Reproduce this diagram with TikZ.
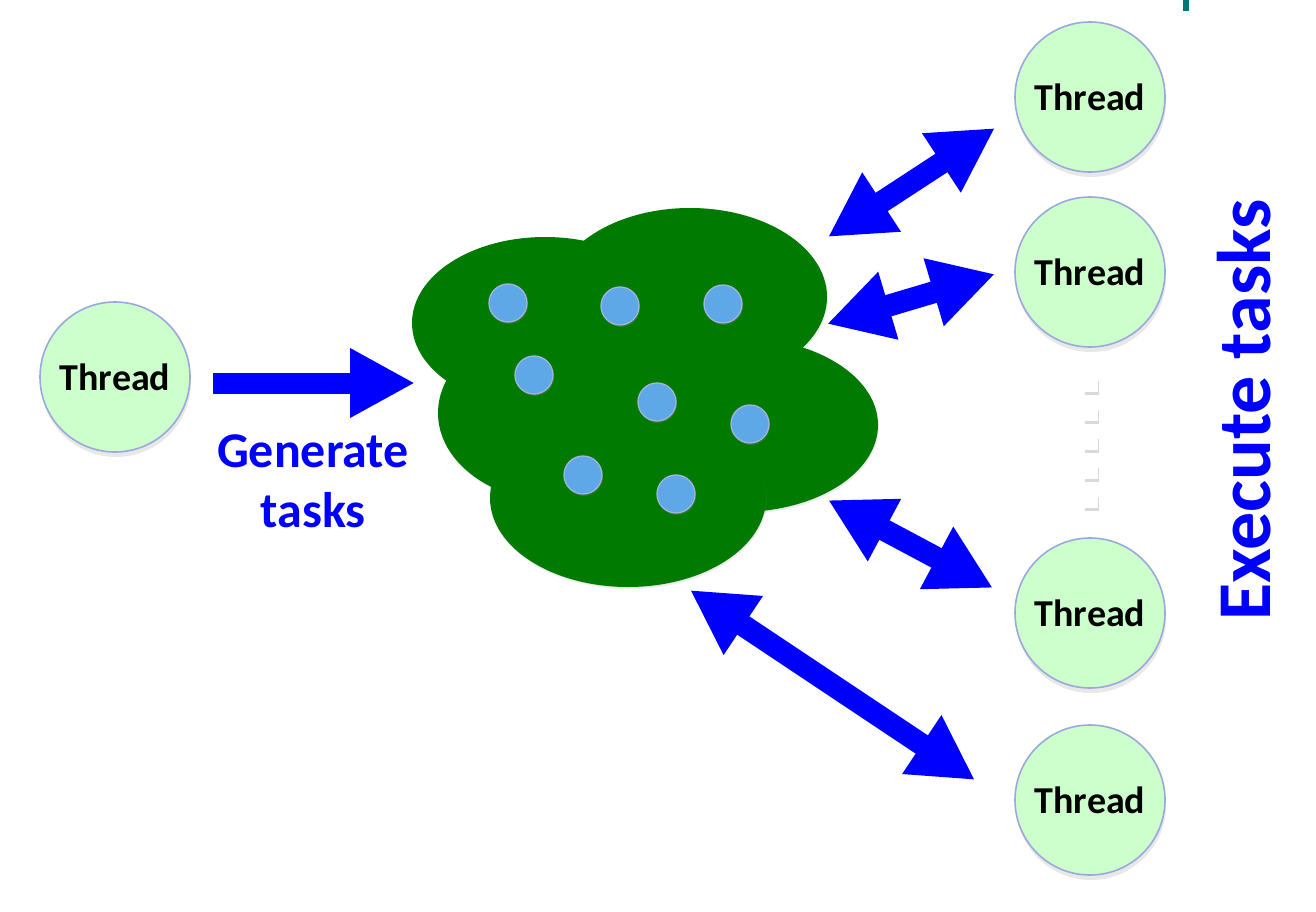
\documentclass[tikz,border=0pt]{standalone}
\usepackage{fontspec}
\setmainfont{Carlito}
\usetikzlibrary{positioning,arrows.meta,shadows}
\definecolor{threadfill}{HTML}{CCFFCC}
\definecolor{threadedge}{HTML}{9AA8DC}
\definecolor{poolgreen}{HTML}{007A00}
\definecolor{taskfill}{HTML}{5FA8E8}
\definecolor{taskedge}{HTML}{A3B3E0}
\definecolor{arrowblue}{HTML}{0000FF}
\definecolor{markteal}{HTML}{007575}

\begin{document}
\begin{tikzpicture}[x=1pt, y=-1pt, node distance={14.5pt}, font=\bfseries,
    thread/.style = {draw=threadedge, line width=1.6pt, fill=threadfill, circle,
      minimum size=150pt, inner sep=0pt, font=\fontsize{38}{40}\selectfont\bfseries,
      drop shadow={shadow xshift=1pt, shadow yshift=-5pt, opacity=0.18}},
    task/.style = {draw=taskedge, line width=1.3pt, fill=taskfill, circle,
      minimum size=38pt, inner sep=0pt,
      drop shadow={shadow xshift=1pt, shadow yshift=-2pt, opacity=0.3}},
    pool/.style = {fill=poolgreen,
      drop shadow={shadow xshift=1pt, shadow yshift=-2pt, opacity=0.15}},
    gap/.style = {fill=white, minimum size=14pt, inner sep=0pt,
      drop shadow={shadow xshift=1pt, shadow yshift=-3pt, opacity=0.3}},
    fatarrow/.style = {draw=arrowblue, line width=22pt,
      {Triangle[length=64pt, width=66pt]}-{Triangle[length=64pt, width=66pt]}},
    label/.style = {text=arrowblue, align=center}]
  \useasboundingbox (0,0) rectangle (1316,912);
  \fill[markteal] (1183,0) rectangle (1189,11);
  % Task pool
  \fill[pool] (545,323) ellipse [x radius=133pt, y radius=86pt];
  \fill[pool] (690,297) ellipse [x radius=137pt, y radius=89pt];
  \fill[pool] (562,413) ellipse [x radius=124pt, y radius=90pt];
  \fill[pool] (740,425) ellipse [x radius=138pt, y radius=87pt];
  \fill[pool] (628,498) ellipse [x radius=138pt, y radius=89pt];
  % Tasks
  \node[task] (k1) at (508,303) {};
  \node[task] (k2) at (620,306) {};
  \node[task] (k3) at (723,304) {};
  \node[task] (k4) at (534,375) {};
  \node[task] (k5) at (657,402) {};
  \node[task] (k6) at (750,424) {};
  \node[task] (k7) at (583,475) {};
  \node[task] (k8) at (676,494) {};
  % Threads
  \node[thread] (gen) at (115,377) {Thread};
  \node[thread] (t1) at (1090,97) {Thread};
  \node[thread] (t2) at (1090,272) {Thread};
  \node[thread] (t3) at (1090,613) {Thread};
  \node[thread] (t4) at (1090,800) {Thread};
  % Gap between threads
  \node[gap] (d1) at (1091,385) {};
  \node[gap] (d2) [below=of d1] {};
  \node[gap] (d3) [below=of d2] {};
  \node[gap] (d4) [below=of d3] {};
  \node[gap] (d5) [below=of d4] {};
  % Arrow ends
  \coordinate (g0) at (213,383);
  \coordinate (g1) at (415,383);
  \coordinate (p1) at (828,237);
  \coordinate (q1) at (995,128);
  \coordinate (p2) at (827,324);
  \coordinate (q2) at (995,274);
  \coordinate (p3) at (828,500);
  \coordinate (q3) at (993,588);
  \coordinate (p4) at (690,590);
  \coordinate (q4) at (975,780);
  % Arrows
  \draw[draw=arrowblue, line width=21pt, -{Triangle[length=65pt, width=65pt]}] (g0) -- (g1);
  \draw[fatarrow] (p1) -- (q1);
  \draw[fatarrow] (p2) -- (q2);
  \draw[fatarrow] (p3) -- (q3);
  \draw[fatarrow] (p4) -- (q4);
  % Labels
  \node[label, font=\fontsize{50}{60}\selectfont\bfseries] (gt) at (313,481) {Generate\\tasks};
  \node[label, font=\fontsize{76}{80}\selectfont\bfseries, rotate=90] (et) at (1244,410) {Execute tasks};
\end{tikzpicture}
\end{document}
